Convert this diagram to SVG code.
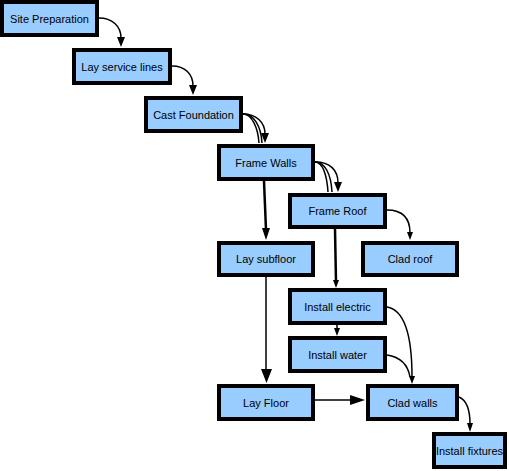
<svg xmlns="http://www.w3.org/2000/svg" width="509" height="471" viewBox="0 0 509 471">
<style>
.n rect{fill:#99CCFF;stroke:#000;stroke-width:4}
.n text{font-family:"Liberation Sans",Arial,sans-serif;font-size:11px;fill:#000;text-anchor:middle}
.e path{fill:none;stroke:#000;stroke-width:1.5}
.e path.t{stroke-width:2.5}
.e polygon{fill:#000;stroke:none}
</style>
<rect width="509" height="471" fill="#fff"/>
<g class="e" id="connectors">
<path d="M99,18 C112,18 121,26 121,38"/>
<polygon points="117,37 125,37 121,47"/>
<path d="M172,66 C185,66 193,74 193,86"/>
<polygon points="189,85 197,85 193,95"/>
<path d="M243,114 C252,114 258,128 259,143"/>
<path d="M243,114 C254,114 261,126 262,143"/>
<path d="M243,114 C256,114 265,122 265,134"/>
<polygon points="261,133 269,133 265,143"/>
<path d="M315,162 C323,162 327,176 328,192"/>
<path d="M315,162 C325,162 331,174 332,192"/>
<path d="M315,162 C330,162 338,170 338,183"/>
<polygon points="334,182 342,182 338,192"/>
<path class="t" d="M264,181 L266,230"/>
<polygon points="262,228 270,228 266,240"/>
<path class="t" d="M335,229 L336,282"/>
<polygon points="333,280 339,280 336,288"/>
<path d="M387,210 C402,210 410,218 410,233"/>
<polygon points="407,232 413,232 410,240"/>
<path d="M337,325 L337,330"/>
<polygon points="334,328 340,328 337,336"/>
<path d="M387,307 C405,310 412,335 412,377"/>
<polygon points="409,376 415,376 412,384"/>
<path d="M387,355 C400,357 408,365 410,377"/>
<path d="M266,277 L266,372"/>
<polygon points="261,369 272,369 266.5,383"/>
<path d="M315,400 L352,400"/>
<polygon points="350,395 350,405 365,400"/>
<path d="M459,397 C466,400 470,410 470,424"/>
<polygon points="467,423 473,423 470,432"/>
</g>
<g class="n" id="site-preparation"><rect x="2" y="2" width="95" height="33"/><text x="49.5" y="23">Site Preparation</text></g>
<g class="n" id="lay-service-lines"><rect x="74" y="50" width="96" height="33"/><text x="122" y="71">Lay service lines</text></g>
<g class="n" id="cast-foundation"><rect x="146" y="98" width="95" height="33"/><text x="193.5" y="119">Cast Foundation</text></g>
<g class="n" id="frame-walls"><rect x="219" y="146" width="94" height="33"/><text x="266" y="167">Frame Walls</text></g>
<g class="n" id="frame-roof"><rect x="290" y="195" width="95" height="32"/><text x="337.5" y="215">Frame Roof</text></g>
<g class="n" id="lay-subfloor"><rect x="219" y="243" width="94" height="32"/><text x="266" y="263">Lay subfloor</text></g>
<g class="n" id="clad-roof"><rect x="363" y="243" width="94" height="32"/><text x="410" y="263">Clad roof</text></g>
<g class="n" id="install-electric"><rect x="290" y="290" width="95" height="33"/><text x="337.5" y="311">Install electric</text></g>
<g class="n" id="install-water"><rect x="290" y="338" width="95" height="33"/><text x="337.5" y="359">Install water</text></g>
<g class="n" id="lay-floor"><rect x="219" y="386" width="94" height="33"/><text x="266" y="407">Lay Floor</text></g>
<g class="n" id="clad-walls"><rect x="368" y="386" width="89" height="33"/><text x="412.5" y="407">Clad walls</text></g>
<g class="n" id="install-fixtures"><rect x="434" y="434" width="71" height="33"/><text x="469.5" y="455">Install fixtures</text></g>
</svg>
